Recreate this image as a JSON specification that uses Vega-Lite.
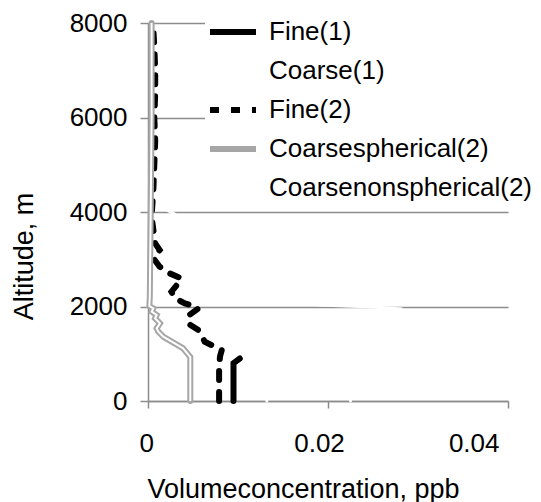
{
  "$schema": "https://vega.github.io/schema/vega-lite/v6.json",
  "width": 360,
  "height": 378,
  "autosize": {"type": "none"},
  "padding": {"left": 148, "top": 23, "right": 33, "bottom": 101},
  "background": "white",
  "config": {
    "view": {"stroke": null},
    "font": "Liberation Sans",
    "axis": {
      "labelFont": "Liberation Sans",
      "titleFont": "Liberation Sans",
      "labelColor": "black",
      "titleColor": "black",
      "labelFontSize": 26,
      "titleFontSize": 27,
      "titleFontWeight": "normal",
      "domainColor": "#8c8c8c",
      "tickColor": "#8c8c8c",
      "gridColor": "#8c8c8c",
      "gridOpacity": 1,
      "domainWidth": 1.5,
      "tickWidth": 1.5,
      "gridWidth": 1.5
    },
    "legend": {
      "labelFont": "Liberation Sans",
      "labelFontSize": 26,
      "labelColor": "black"
    }
  },
  "data": {
    "values": [
      {"s": "Coarsenonspherical(2)", "x": 0.0225, "alt": 0},
      {"s": "Coarsenonspherical(2)", "x": 0.0226, "alt": 800},
      {"s": "Coarsenonspherical(2)", "x": 0.026, "alt": 1400},
      {"s": "Coarsenonspherical(2)", "x": 0.028, "alt": 1950},
      {"s": "Coarsenonspherical(2)", "x": 0.025, "alt": 1990},
      {"s": "Coarsenonspherical(2)", "x": 0.022, "alt": 2010},
      {"s": "Coarsenonspherical(2)", "x": 0.019, "alt": 2030},
      {"s": "Coarsenonspherical(2)", "x": 0.017, "alt": 2100},
      {"s": "Coarsenonspherical(2)", "x": 0.009, "alt": 3000},
      {"s": "Coarsenonspherical(2)", "x": 0.003, "alt": 3950},
      {"s": "Coarsenonspherical(2)", "x": 0.0015, "alt": 4100},
      {"s": "Coarse(1)", "x": 0.0132, "alt": 0},
      {"s": "Coarse(1)", "x": 0.0132, "alt": 850},
      {"s": "Fine(1)", "x": 0.0095, "alt": 0},
      {"s": "Fine(1)", "x": 0.0095, "alt": 800},
      {"s": "Fine(1)", "x": 0.0102, "alt": 900},
      {"s": "Fine(2)", "x": 0.0079, "alt": 0},
      {"s": "Fine(2)", "x": 0.0079, "alt": 720},
      {"s": "Fine(2)", "x": 0.008, "alt": 940},
      {"s": "Fine(2)", "x": 0.0082, "alt": 1080},
      {"s": "Fine(2)", "x": 0.0074, "alt": 1150},
      {"s": "Fine(2)", "x": 0.0063, "alt": 1255},
      {"s": "Fine(2)", "x": 0.0061, "alt": 1330},
      {"s": "Fine(2)", "x": 0.0056, "alt": 1500},
      {"s": "Fine(2)", "x": 0.0047, "alt": 1610},
      {"s": "Fine(2)", "x": 0.0048, "alt": 1650},
      {"s": "Fine(2)", "x": 0.0045, "alt": 1784},
      {"s": "Fine(2)", "x": 0.0046, "alt": 1820},
      {"s": "Fine(2)", "x": 0.0056, "alt": 1961},
      {"s": "Fine(2)", "x": 0.0053, "alt": 2000},
      {"s": "Fine(2)", "x": 0.0041, "alt": 2067},
      {"s": "Fine(2)", "x": 0.003, "alt": 2173},
      {"s": "Fine(2)", "x": 0.0026, "alt": 2313},
      {"s": "Fine(2)", "x": 0.0032, "alt": 2455},
      {"s": "Fine(2)", "x": 0.0037, "alt": 2596},
      {"s": "Fine(2)", "x": 0.0024, "alt": 2702},
      {"s": "Fine(2)", "x": 0.0013, "alt": 2842},
      {"s": "Fine(2)", "x": 0.0006, "alt": 3019},
      {"s": "Fine(2)", "x": 0.0013, "alt": 3195},
      {"s": "Fine(2)", "x": 0.0008, "alt": 3337},
      {"s": "Fine(2)", "x": 0.0006, "alt": 3618},
      {"s": "Fine(2)", "x": 0.0004, "alt": 3900},
      {"s": "Fine(2)", "x": 0.0006, "alt": 4500},
      {"s": "Fine(2)", "x": 0.0007, "alt": 5000},
      {"s": "Fine(2)", "x": 0.0008, "alt": 5500},
      {"s": "Fine(2)", "x": 0.0007, "alt": 6000},
      {"s": "Fine(2)", "x": 0.0008, "alt": 6500},
      {"s": "Fine(2)", "x": 0.0008, "alt": 7000},
      {"s": "Fine(2)", "x": 0.0007, "alt": 7500},
      {"s": "Fine(2)", "x": 0.0006, "alt": 7850},
      {"s": "Coarsespherical(2)", "x": 0.0047, "alt": 0},
      {"s": "Coarsespherical(2)", "x": 0.0047, "alt": 930},
      {"s": "Coarsespherical(2)", "x": 0.0039, "alt": 1115},
      {"s": "Coarsespherical(2)", "x": 0.0017, "alt": 1361},
      {"s": "Coarsespherical(2)", "x": 0.00115, "alt": 1467},
      {"s": "Coarsespherical(2)", "x": 0.00096, "alt": 1538},
      {"s": "Coarsespherical(2)", "x": 0.00133, "alt": 1644},
      {"s": "Coarsespherical(2)", "x": 0.00078, "alt": 1750},
      {"s": "Coarsespherical(2)", "x": 0.00096, "alt": 1820},
      {"s": "Coarsespherical(2)", "x": 0.00041, "alt": 1890},
      {"s": "Coarsespherical(2)", "x": 0.00059, "alt": 1961},
      {"s": "Coarsespherical(2)", "x": 0.00015, "alt": 2010},
      {"s": "Coarsespherical(2)", "x": 0.0002, "alt": 2200},
      {"s": "Coarsespherical(2)", "x": 0.0003, "alt": 4000},
      {"s": "Coarsespherical(2)", "x": 0.0004, "alt": 6000},
      {"s": "Coarsespherical(2)", "x": 0.0004, "alt": 8000}
    ]
  },
  "encoding": {
    "x": {
      "field": "x",
      "type": "quantitative",
      "scale": {"domain": [0, 0.04], "nice": false},
      "axis": {
        "values": [0, 0.02, 0.04],
        "format": ".2~f",
        "grid": false,
        "tickSize": 7,
        "labelPadding": 22,
        "labelOffset": -9,
        "title": "Volumeconcentration, ppb",
        "titleX": 155,
        "titleY": 96,
        "titleAlign": "center",
        "titleBaseline": "alphabetic"
      }
    },
    "y": {
      "field": "alt",
      "type": "quantitative",
      "scale": {"domain": [0, 8000], "nice": false},
      "axis": {
        "values": [0, 2000, 4000, 6000, 8000],
        "format": "d",
        "grid": true,
        "tickSize": 8,
        "labelPadding": 13,
        "title": "Altitude, m",
        "titleX": -124,
        "titleY": 233,
        "titleAngle": 270,
        "titleAlign": "center",
        "titleBaseline": "middle"
      }
    },
    "order": {"field": "alt", "type": "quantitative"}
  },
  "layer": [
    {
      "transform": [{"filter": "datum.s === 'Coarse(1)' || datum.s === 'Coarsenonspherical(2)'"}],
      "mark": {"type": "line", "strokeWidth": 3, "strokeCap": "round"},
      "encoding": {
        "color": {
          "field": "s",
          "type": "nominal",
          "scale": {
            "domain": ["Fine(1)", "Coarse(1)", "Fine(2)", "Coarsespherical(2)", "Coarsenonspherical(2)"],
            "range": ["black", "white", "black", "#a6a6a6", "white"]
          },
          "legend": {
            "title": null,
            "orient": "none",
            "legendX": 57,
            "legendY": -19,
            "symbolType": "stroke",
            "symbolSize": 2116,
            "symbolStrokeWidth": 6,
            "labelOffset": 10,
            "labelLimit": 400,
            "fillColor": "white",
            "padding": 2,
            "rowPadding": -8
          }
        }
      }
    },
    {
      "transform": [{"filter": "datum.s === 'Fine(1)' || datum.s === 'Fine(2)' || datum.s === 'Coarsespherical(2)'"}],
      "mark": {"type": "line", "strokeWidth": 6, "strokeCap": "round"},
      "encoding": {
        "color": {"field": "s", "type": "nominal"},
        "strokeDash": {
          "field": "s",
          "type": "nominal",
          "scale": {
            "domain": ["Fine(1)", "Coarse(1)", "Fine(2)", "Coarsespherical(2)", "Coarsenonspherical(2)"],
            "range": [[1, 0], [1, 0], [9, 12], [1, 0], [1, 0]]
          },
          "legend": {
            "title": null,
            "orient": "none",
            "legendX": 57,
            "legendY": -19,
            "symbolType": "stroke",
            "symbolSize": 2116,
            "symbolStrokeWidth": 6,
            "labelOffset": 10,
            "labelLimit": 400,
            "fillColor": "white",
            "padding": 2,
            "rowPadding": -8
          }
        }
      }
    },
    {
      "transform": [{"filter": "datum.s === 'Coarsespherical(2)'"}],
      "mark": {"type": "line", "strokeWidth": 2, "color": "white"},
      "encoding": {"detail": {"field": "s", "type": "nominal"}}
    }
  ]
}
